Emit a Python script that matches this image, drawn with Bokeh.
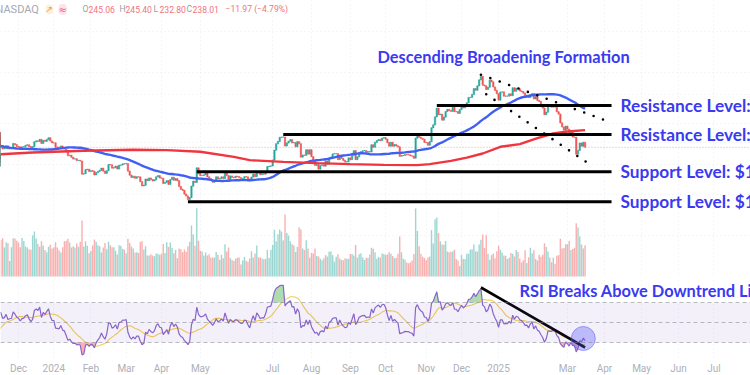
import numpy as np
import pandas as pd
from bokeh.plotting import figure
from bokeh.layouts import column
from bokeh.models import (Range1d, LinearScale, FixedTicker, Span, Label,
                          BoxAnnotation)
from bokeh.embed import file_html
from bokeh.resources import INLINE

# ---------------- data (TSLA daily closes, USD) ----------------
close_2023_09 = [245.0, 256.5, 251.9, 251.5, 248.5, 273.6, 267.5, 271.3, 276.0, 274.4,
                 265.3, 266.5, 262.6, 255.7, 244.9, 247.0, 244.1, 240.5, 246.4, 250.2]
close_2023_10 = [251.6, 246.5, 261.2, 260.1, 260.5, 259.7, 263.6, 263.0, 258.9, 251.1,
                 253.9, 254.85, 242.7, 220.1, 212.0, 212.1, 216.5, 212.4, 205.8, 207.3,
                 197.4, 200.8]
close_2023_11 = [205.7, 218.5, 220.0, 219.3, 222.2, 222.1, 210.0, 214.65, 223.7, 237.4,
                 242.8, 242.0, 234.3, 235.6, 241.2, 234.2, 235.45, 236.1, 246.7, 244.1, 240.1]
close_2023_12 = [238.8, 235.6, 238.7, 239.4, 242.6, 243.8, 239.7, 237.0, 239.3, 251.1,
                 253.5, 252.1, 257.2, 247.1, 254.5, 252.5, 256.6, 261.4, 253.2, 248.5]
close_2024_01 = [248.4, 238.5, 238.0, 237.5, 241.0, 235.0, 233.9, 227.2, 218.9, 219.9,
                 215.6, 211.9, 212.2, 208.8, 209.1, 207.8, 182.6, 183.3, 190.9, 191.6, 187.3]
close_2024_02 = [188.9, 187.9, 181.1, 185.1, 187.6, 189.6, 193.6, 188.1, 184.0, 188.7,
                 200.5, 200.0, 193.8, 194.8, 197.4, 192.0, 199.4, 199.7, 202.0, 201.9]
close_2024_03 = [202.6, 188.1, 180.7, 176.5, 178.7, 175.3, 177.8, 177.5, 169.5, 162.5,
                 163.6, 173.8, 171.3, 175.7, 172.8, 170.8, 172.6, 177.7, 179.8, 175.8]
close_2024_04 = [175.2, 166.6, 168.4, 171.1, 164.9, 173.0, 176.9, 171.8, 174.6, 171.05,
                 161.5, 157.1, 155.5, 149.9, 147.05, 142.05, 144.7, 162.1, 170.2, 168.3,
                 194.05, 183.3]
close_2024_05 = [180.0, 180.0, 181.2, 184.8, 177.8, 174.7, 172.0, 168.5, 171.9, 177.6,
                 174.0, 174.8, 177.5, 175.0, 186.6, 180.1, 173.7, 179.2, 176.75, 176.2,
                 178.8, 178.1]
close_2024_06 = [176.3, 174.8, 175.0, 177.9, 177.5, 173.8, 170.7, 177.3, 182.5, 178.0,
                 187.4, 184.9, 181.6, 183.0, 182.6, 187.4, 196.4, 197.4, 197.9]
close_2024_07 = [209.9, 231.3, 246.4, 252.0, 262.3, 263.3, 263.3, 241.0, 248.2, 252.6,
                 256.6, 248.5, 249.2, 239.2, 251.5, 246.4, 216.0, 220.3, 219.8, 232.1,
                 222.6, 232.1]
close_2024_08 = [216.9, 207.7, 198.9, 200.6, 191.8, 198.8, 200.0, 197.5, 207.8, 201.4,
                 214.1, 216.1, 222.7, 223.3, 223.3, 210.7, 220.3, 213.2, 209.2, 205.75,
                 206.3, 214.1]
close_2024_09 = [210.6, 219.4, 230.2, 210.7, 216.3, 226.2, 228.1, 229.8, 230.3, 226.8,
                 227.9, 227.2, 243.9, 238.25, 250.0, 254.3, 257.0, 254.2, 260.5, 261.6]
close_2024_10 = [258.0, 249.0, 240.7, 250.1, 240.8, 244.5, 241.05, 238.8, 217.8, 219.2,
                 219.6, 221.3, 220.9, 220.7, 218.85, 218.0, 213.65, 260.5, 269.2, 262.5,
                 259.5, 257.55, 249.85]
close_2024_11 = [249.0, 242.8, 251.4, 288.5, 296.9, 321.2, 350.0, 328.5, 330.2, 311.2,
                 320.7, 338.7, 346.0, 342.0, 339.6, 352.6, 338.6, 338.2, 332.9, 345.2]
close_2024_12 = [357.1, 351.4, 357.9, 369.5, 389.2, 389.8, 401.0, 424.8, 418.1, 436.2,
                 463.0, 479.9, 440.1, 436.2, 421.1, 430.6, 462.3, 454.1, 431.7, 417.4, 403.8]
close_2025_01 = [379.3, 410.4, 411.05, 394.4, 394.9, 394.7, 403.3, 396.4, 428.2, 413.8,
                 426.5, 424.1, 415.1, 412.4, 406.6, 397.15, 398.1, 389.1, 400.3, 404.6]
close_2025_02 = [383.7, 392.2, 378.2, 374.3, 361.6, 350.7, 328.5, 336.5, 355.9, 355.8,
                 354.1, 360.6, 354.4, 337.8, 330.5, 302.8, 290.8, 282.0, 293.0]
close_2025_03 = [284.65, 272.0, 279.1, 263.45, 262.7, 222.15, 230.6, 248.1, 240.7, 250.0, 238.0]

# volume (millions of shares), from 2023-11-16
vol_2023_11 = [130, 136, 103, 122, 118, 55, 104, 136, 135, 127]
vol_2023_12 = [121, 104, 137, 126, 107, 103, 97, 95, 146, 160, 135, 116, 106, 125, 110, 94,
               86, 106, 113, 100]
vol_2024_01 = [104, 122, 103, 93, 85, 104, 125, 127, 134, 121, 103, 108, 103, 117, 106, 124,
               199, 107, 125, 109, 83]
vol_2024_02 = [91, 110, 132, 124, 111, 108, 85, 103, 119, 97, 124, 111, 104, 104, 92, 78,
               111, 109, 99, 95]
vol_2024_03 = [82, 134, 119, 107, 100, 85, 86, 84, 123, 126, 96, 108, 75, 75, 79, 75, 72,
               82, 81, 77]
vol_2024_04 = [81, 116, 84, 122, 105, 121, 101, 83, 94, 65, 100, 97, 86, 96, 88, 108, 124,
               181, 149, 109, 243, 127]
vol_2024_05 = [92, 89, 75, 85, 75, 79, 68, 67, 68, 87, 77, 60, 77, 65, 115, 89, 103, 66, 59,
               55, 63, 67]
vol_2024_06 = [68, 43, 57, 69, 56, 52, 64, 90, 68, 82, 110, 68, 68, 64, 61, 63, 95, 66, 95]
vol_2024_07 = [112, 166, 125, 150, 167, 160, 128, 221, 155, 146, 125, 115, 110, 87, 105, 175,
               167, 100, 94, 129, 100, 67]
vol_2024_08 = [84, 82, 100, 73, 71, 63, 58, 65, 76, 71, 89, 89, 76, 53, 70, 79, 64, 59, 58,
               65, 63, 63]
vol_2024_09 = [80, 80, 75, 112, 67, 79, 83, 68, 59, 67, 66, 78, 102, 99, 86, 63, 70, 67, 82, 80]
vol_2024_10 = [77, 78, 86, 81, 73, 65, 67, 81, 142, 86, 63, 60, 50, 47, 50, 57, 80, 242, 162,
               108, 81, 70, 66]
vol_2024_11 = [58, 68, 71, 165, 117, 204, 210, 155, 125, 114, 113, 126, 89, 86, 88, 89, 95,
               62, 57, 37]
vol_2024_12 = [77, 62, 62, 81, 81, 96, 97, 114, 90, 89, 114, 131, 149, 101, 147, 81, 60, 76,
               82, 65, 90]
vol_2025_01 = [109, 95, 85, 75, 74, 62, 67, 84, 81, 71, 94, 87, 64, 50, 58, 93, 48, 68, 102, 83]
vol_2025_02 = [93, 62, 57, 77, 70, 77, 118, 105, 89, 68, 51, 67, 45, 74, 76, 134, 100, 101, 115]
vol_2025_03 = [115, 126, 94, 98, 102, 189, 174, 142, 114, 100, 111]

# 200-day moving average
ma200_dates = ["2023-11-16", "2023-12-13", "2024-01-26", "2024-03-07", "2024-04-04",
               "2024-05-01", "2024-05-29", "2024-06-11", "2024-07-10", "2024-08-06",
               "2024-09-03", "2024-09-30", "2024-10-25", "2024-11-05", "2024-11-21",
               "2024-12-05", "2024-12-18", "2025-01-03", "2025-01-22", "2025-02-05",
               "2025-02-19", "2025-03-03", "2025-03-17"]
ma200_vals = [222.5, 226.1, 230.0, 232.3, 231.6, 227.8, 216.7, 209.7, 206.3, 203.6,
              201.6, 200.2, 199.6, 201.6, 208.3, 215.2, 224.0, 239.3, 245.7, 260.8,
              272.9, 278.4, 282.3]

holidays = ["2023-09-04", "2023-11-23", "2023-12-25", "2024-01-01", "2024-01-15",
            "2024-02-19", "2024-03-29", "2024-05-27", "2024-06-19", "2024-07-04",
            "2024-09-02", "2024-11-28", "2024-12-25", "2025-01-01", "2025-01-09",
            "2025-01-20", "2025-02-17", "2025-04-18", "2025-05-26", "2025-06-19",
            "2025-07-04"]

tick_months = ["2023-12", "2024-01", "2024-02", "2024-03", "2024-04", "2024-05", "2024-07",
               "2024-08", "2024-09", "2024-10", "2024-11", "2024-12", "2025-01", "2025-03",
               "2025-04", "2025-05", "2025-06", "2025-07", "2025-08"]
tick_labels = ["Dec", "2024", "Feb", "Mar", "Apr", "May", "Jul", "Aug", "Sep", "Oct", "Nov",
               "Dec", "2025", "Mar", "Apr", "May", "Jun", "Jul", "Aug"]

levels = [360, 270, 187, 139]
level_text = ["Resistance Level: $360", "Resistance Level: $270",
              "Support Level: $187", "Support Level: $139"]
level_start = ["2024-11-11", "2024-07-10", "2024-04-29", "2024-04-22"]
level_end = "2025-04-07"

upper_trend_dates = ["2024-12-17", "2025-04-07"]
upper_trend_prices = [488.0, 304.0]
lower_trend_dates = ["2024-12-20", "2025-03-21"]
lower_trend_prices = [402.0, 198.0]

rsi_trend_dates = ["2024-12-17", "2025-03-17"]
rsi_trend_vals = [85.0, 25.0]
rsi_mark_date = ["2025-03-14"]
rsi_mark_val = [34.0]

last_close = 238.01
vol_start = "2023-11-16"
header_fields = [("O", "245.06"), ("H", "245.40"), ("L", "232.80"), ("C", "238.01")]
header_change = "\u221211.97 (\u22124.79%)"

# ---------------- preparation ----------------
closes = np.array(close_2023_09 + close_2023_10 + close_2023_11 + close_2023_12 +
                  close_2024_01 + close_2024_02 + close_2024_03 + close_2024_04 +
                  close_2024_05 + close_2024_06 + close_2024_07 + close_2024_08 +
                  close_2024_09 + close_2024_10 + close_2024_11 + close_2024_12 +
                  close_2025_01 + close_2025_02 + close_2025_03, dtype=float)
vols = np.array(vol_2023_11 + vol_2023_12 + vol_2024_01 + vol_2024_02 + vol_2024_03 +
                vol_2024_04 + vol_2024_05 + vol_2024_06 + vol_2024_07 + vol_2024_08 +
                vol_2024_09 + vol_2024_10 + vol_2024_11 + vol_2024_12 + vol_2025_01 +
                vol_2025_02 + vol_2025_03, dtype=float)

days = pd.bdate_range("2023-09-01", "2025-08-29").difference(pd.to_datetime(holidays))
pos = {d: i for i, d in enumerate(days)}


def ix(s):
    return pos[pd.Timestamp(s)]


n = len(closes)
if n != ix("2025-03-17") + 1:
    raise ValueError("closes length %d" % n)
v0 = ix(vol_start)
if len(vols) != n - v0:
    raise ValueError("vols length %d vs %d" % (len(vols), n - v0))

x = np.arange(n)
opens = np.concatenate([[closes[0]], closes[:-1]])
up = closes >= opens
col = np.where(up, "#26a69a", "#ef5350")
ma50 = pd.Series(closes).rolling(50).mean().to_numpy()

# RSI (Wilder, 14)
d = np.diff(closes)
g = np.where(d > 0, d, 0.0)
l = np.where(d < 0, -d, 0.0)
N = 14
ag = np.full(n, np.nan)
al = np.full(n, np.nan)
ag[N] = g[:N].mean()
al[N] = l[:N].mean()
for i in range(N + 1, n):
    ag[i] = (ag[i - 1] * (N - 1) + g[i - 1]) / N
    al[i] = (al[i - 1] * (N - 1) + l[i - 1]) / N
rsi = 100 - 100 / (1 + ag / al)
rsi_ma = pd.Series(rsi).rolling(14).mean().to_numpy()

tick_idx = [int(np.argmax(days >= pd.Timestamp(m + "-01"))) for m in tick_months]

px_per_bar = 1.765
x_left = ix("2023-12-01") - 18 / px_per_bar
xr = Range1d(x_left, x_left + 750 / px_per_bar)

BLUE_TXT = "#3a3af0"
FONT = "Lato"

# ---------------- price pane ----------------
p = figure(frame_width=750, frame_height=277, x_range=xr,
           y_range=Range1d(65.8, 1015.5), y_axis_type="log",
           x_axis_location=None, y_axis_location=None,
           output_backend="svg", toolbar_location=None, min_border=0,
           outline_line_color=None, background_fill_color="white")
p.xgrid.ticker = FixedTicker(ticks=tick_idx)
p.ygrid.ticker = FixedTicker(ticks=[100, 150, 200, 250, 300, 400, 500, 750])
for gr in (p.xgrid, p.ygrid):
    gr.grid_line_color = "#e3e6ee"
    gr.grid_line_alpha = 0.7
    gr.grid_line_dash = "1 3"

p.extra_y_ranges = {"vol": Range1d(-3.6, 982)}
p.extra_y_scales = {"vol": LinearScale()}
xv = x[v0:]
p.vbar(x=xv, top=vols, bottom=0, width=0.8, y_range_name="vol",
       fill_color=col[v0:], line_color=None, fill_alpha=0.45)

p.add_layout(Span(location=last_close, dimension="width", line_color="#f23645",
                  line_alpha=0.45, line_dash="1 2", line_width=1))

p.vbar(x=x, bottom=np.minimum(opens, closes), top=np.maximum(opens, closes) * 1.002,
       width=0.75, fill_color=col, line_color=col, line_width=0.6)

p.line(x=x, y=ma50, line_color="#3f5ff5", line_width=2.4)
p.line(x=[ix(s) for s in ma200_dates], y=ma200_vals, line_color="#f0353f", line_width=2.4)

end_i = ix(level_end)
p.segment(x0=[ix(s) for s in level_start], y0=levels, x1=[end_i] * len(levels), y1=levels,
          line_color="black", line_width=3)
for lv, tx in zip(levels, level_text):
    p.add_layout(Label(x=620, x_units="screen", y=lv, text=tx, text_baseline="middle",
                       text_color=BLUE_TXT, text_font=FONT, text_font_style="bold",
                       text_font_size="17.3px"))

p.line(x=[ix(s) for s in upper_trend_dates], y=upper_trend_prices, line_color="black",
       line_width=2.6, line_dash="0 10", line_cap="round")
p.line(x=[ix(s) for s in lower_trend_dates], y=lower_trend_prices, line_color="black",
       line_width=2.6, line_dash="0 10", line_cap="round")

p.add_layout(Label(x=377, x_units="screen", y=583, text="Descending Broadening Formation",
                   text_baseline="middle", text_color=BLUE_TXT, text_font=FONT,
                   text_font_style="bold", text_font_size="16.4px"))

# header
hdr_y = 930
p.add_layout(Label(x=-5, x_units="screen", y=hdr_y, text="NASDAQ", text_baseline="middle",
                   text_color="#a5a8b0", text_font="Roboto", text_font_size="11px"))
p.add_layout(Label(x=45, x_units="screen", y=hdr_y, text="↗", text_baseline="middle",
                   text_color="#f59b22", text_font="DejaVu Sans", text_font_size="9px",
                   background_fill_color="#fdf0dc", border_radius=4))
p.add_layout(Label(x=58, x_units="screen", y=hdr_y, text="≈", text_baseline="middle",
                   text_color="#f0607a", text_font="DejaVu Sans", text_font_size="10px",
                   background_fill_color="#fde4ea", border_radius=4))
for lx, (let, num) in zip([82, 119, 153, 186], header_fields):
    p.add_layout(Label(x=lx, x_units="screen", y=hdr_y, text=let, text_baseline="middle",
                       text_color="#9a9da6", text_font="Roboto", text_font_size="8.6px"))
    p.add_layout(Label(x=lx + 6, x_units="screen", y=hdr_y, text=num,
                       text_baseline="middle", text_color="#f2737c", text_font="Roboto",
                       text_font_size="8.6px"))
p.add_layout(Label(x=225, x_units="screen", y=hdr_y, text=header_change,
                   text_baseline="middle", text_color="#f2737c", text_font="Roboto",
                   text_font_size="8.6px"))

# ---------------- RSI pane ----------------
r = figure(frame_width=750, frame_height=80, x_range=xr, y_range=Range1d(15, 95),
           y_axis_location=None, output_backend="svg", toolbar_location=None,
           min_border=0, outline_line_color=None, background_fill_color="white")
r.xaxis.ticker = FixedTicker(ticks=tick_idx)
r.xaxis.major_label_overrides = {t: lab for t, lab in zip(tick_idx, tick_labels)}
r.xaxis.axis_line_color = None
r.xaxis.major_tick_line_color = None
r.xaxis.minor_tick_line_color = None
r.xaxis.major_tick_out = 0
r.xaxis.major_tick_in = 0
r.xaxis.major_label_standoff = 5
r.xaxis.major_label_text_color = "#adb0b8"
r.xaxis.major_label_text_font = "Roboto"
r.xaxis.major_label_text_font_size = "10px"
r.xgrid.grid_line_color = "#e3e6ee"
r.xgrid.grid_line_alpha = 0.7
r.xgrid.grid_line_dash = "1 3"
r.ygrid.grid_line_color = None

r.add_layout(BoxAnnotation(bottom=30, top=70, fill_color="#7e57c2", fill_alpha=0.09,
                           line_color=None))
for lv in (70, 50, 30):
    r.add_layout(Span(location=lv, dimension="width", line_color="#787b86",
                      line_alpha=0.5, line_dash="4 3", line_width=1))

r.varea(x=x, y1=70, y2=np.where(np.isnan(rsi), 70, np.maximum(rsi, 70)),
        fill_color="#4caf50", fill_alpha=0.45)
r.varea(x=x, y1=30, y2=np.where(np.isnan(rsi), 30, np.minimum(rsi, 30)),
        fill_color="#ef5350", fill_alpha=0.45)
r.line(x=x, y=rsi_ma, line_color="#f5cf4f", line_width=1.1)
r.line(x=x, y=rsi, line_color="#8a66cc", line_width=1.2)

r.line(x=[ix(s) for s in rsi_trend_dates], y=rsi_trend_vals, line_color="black",
       line_width=2.6)
r.scatter(x=[ix(s) for s in rsi_mark_date], y=rsi_mark_val, size=24,
          fill_color="#5555ff", fill_alpha=0.35, line_color="#5555ff", line_alpha=0.5)
r.add_layout(Label(x=519, x_units="screen", y=82, text="RSI Breaks Above Downtrend Line",
                   text_baseline="middle", text_color=BLUE_TXT, text_font=FONT,
                   text_font_style="bold", text_font_size="16.4px"))

layout = column(p, r, spacing=0)
open("out.html", "w").write(file_html(layout, INLINE))
